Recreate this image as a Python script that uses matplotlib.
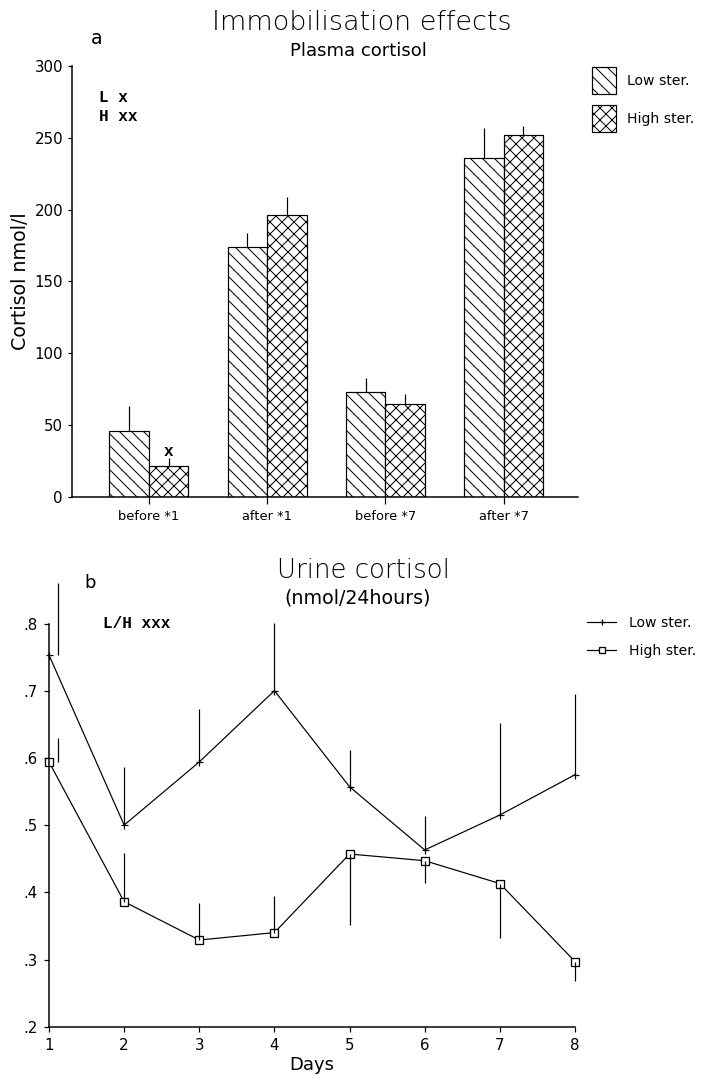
import matplotlib
matplotlib.use("Agg")
import matplotlib.pyplot as plt
import numpy as np

# panel a - plasma cortisol (nmol/l)
groups = ['before *1', 'after *1', 'before *7', 'after *7']
low_ster = [46, 174, 73, 236]
high_ster = [21.5, 196, 65, 252]
low_err = [17, 9.5, 10, 20.5]
high_err = [5.5, 13, 6.5, 6]

# panel b - urine cortisol (nmol/24hours)
days = [1, 2, 3, 4, 5, 6, 7, 8]
urine_low = [0.753, 0.500, 0.594, 0.700, 0.557, 0.463, 0.515, 0.575]
urine_high = [0.594, 0.386, 0.329, 0.340, 0.457, 0.447, 0.413, 0.297]
urine_low_err = [0.107, 0.086, 0.079, 0.101, 0.055, 0.050, 0.137, 0.120]
urine_high_up = [0.036, 0.072, 0.055, 0.054, 0, 0, 0, 0]
urine_high_down = [0, 0, 0, 0, 0.106, 0.033, 0.081, 0.029]

plt.rcParams['font.family'] = 'DejaVu Sans'
plt.rcParams['hatch.linewidth'] = 1.0
mono = 'Liberation Mono'

fig = plt.figure(figsize=(711 / 72, 1081 / 72), dpi=72)

# ---------- panel a ----------
ax = fig.add_axes([72 / 711, 1 - 497 / 1081, 506 / 711, 431 / 1081])
x = np.arange(len(groups))
w = 0.334
ax.bar(x - w / 2, low_ster, w, color='white', edgecolor='black', hatch='\\\\',
       linewidth=1.2, label='Low ster.')
ax.bar(x + w / 2, high_ster, w, color='white', edgecolor='black', hatch='xx',
       linewidth=1.2, label='High ster.')
ax.errorbar(x - w / 2, low_ster, yerr=[np.zeros(4), low_err], fmt='none',
            ecolor='black', elinewidth=1.2, capsize=0)
ax.errorbar(x + w / 2, high_ster, yerr=[np.zeros(4), high_err], fmt='none',
            ecolor='black', elinewidth=1.2, capsize=0)

ax.set_xlim(-0.65, 3.63)
ax.set_ylim(0, 300)
ax.set_yticks([0, 50, 100, 150, 200, 250, 300])
ax.set_xticks(x)
ax.set_xticklabels(groups, fontsize=13)
ax.tick_params(axis='y', labelsize=15, length=4, pad=5, width=1.2)
ax.tick_params(axis='x', length=7, pad=6, width=1.2)
for s in ['top', 'right']:
    ax.spines[s].set_visible(False)
for s in ['left', 'bottom']:
    ax.spines[s].set_linewidth(1.5)
ax.set_ylabel('Cortisol nmol/l', fontsize=19, labelpad=4)

ax.text(-0.42, 278, 'L x', family=mono, fontweight='bold', fontsize=16, va='center')
ax.text(-0.42, 265, 'H xx', family=mono, fontweight='bold', fontsize=16, va='center')
ax.text(w / 2, 32, 'x', family=mono, fontweight='bold', fontsize=16, ha='center', va='center')

ax.legend(loc='upper left', bbox_to_anchor=(592 / 711, 1 - 67 / 1081),
          bbox_transform=fig.transFigure, frameon=False, fontsize=14,
          handlelength=1.7, handleheight=2.6, labelspacing=0.8,
          handletextpad=0.8, borderpad=0, borderaxespad=0)

fig.text(362 / 711, 1 - 22 / 1081, 'Immobilisation effects', fontsize=27,
         ha='center', va='center', fontweight='light', color='black')
fig.text(358 / 711, 1 - 51 / 1081, 'Plasma cortisol', fontsize=18,
         ha='center', va='center')
fig.text(97 / 711, 1 - 38 / 1081, 'a', fontsize=19, ha='center', va='center')

# ---------- panel b ----------
bx = fig.add_axes([49 / 711, 1 - 1026.7 / 1081, 526 / 711, 403.2 / 1081])
err_x = [1.12] + days[1:]
bx.plot(days, urine_low, color='black', lw=1.2, marker='+', ms=7, mew=1.2,
        label='Low ster.', clip_on=False)
bx.plot(days, urine_high, color='black', lw=1.2, marker='s', ms=8, mew=1.3,
        mfc='white', label='High ster.', clip_on=False)
bx.errorbar(err_x, urine_low, yerr=[np.zeros(8), urine_low_err], fmt='none',
            ecolor='black', elinewidth=1.2, capsize=0, clip_on=False)
bx.errorbar(err_x, urine_high, yerr=[urine_high_down, urine_high_up], fmt='none',
            ecolor='black', elinewidth=1.2, capsize=0, clip_on=False)
bx.set_xlim(1, 8)
bx.set_ylim(0.2, 0.8)
bx.set_xticks(days)
bx.set_yticks([0.2, 0.3, 0.4, 0.5, 0.6, 0.7, 0.8])
bx.set_yticklabels(['.2', '.3', '.4', '.5', '.6', '.7', '.8'])
bx.tick_params(axis='both', labelsize=15, length=5, width=1.2)
bx.tick_params(axis='y', pad=6)
bx.tick_params(axis='x', pad=6)
for s in ['top', 'right']:
    bx.spines[s].set_visible(False)
for s in ['left', 'bottom']:
    bx.spines[s].set_linewidth(1.5)
bx.set_xlabel('Days', fontsize=18, labelpad=3)

bx.text(1.72, 0.8, 'L/H xxx', family=mono, fontweight='bold', fontsize=16, va='center')

bx.legend(loc='upper left', bbox_to_anchor=(587 / 711, 1 - 616 / 1081),
          bbox_transform=fig.transFigure, frameon=False, fontsize=14,
          handlelength=2.1, labelspacing=1.0, handletextpad=0.9,
          borderpad=0, borderaxespad=0, numpoints=1, markerscale=0.75)

fig.text(363 / 711, 1 - 570 / 1081, 'Urine cortisol', fontsize=26,
         ha='center', va='center', fontweight='light', color='black')
fig.text(358 / 711, 1 - 598 / 1081, '(nmol/24hours)', fontsize=19,
         ha='center', va='center')
fig.text(90 / 711, 1 - 583 / 1081, 'b', fontsize=18, ha='center', va='center')

fig.savefig('out.png', dpi=72)
